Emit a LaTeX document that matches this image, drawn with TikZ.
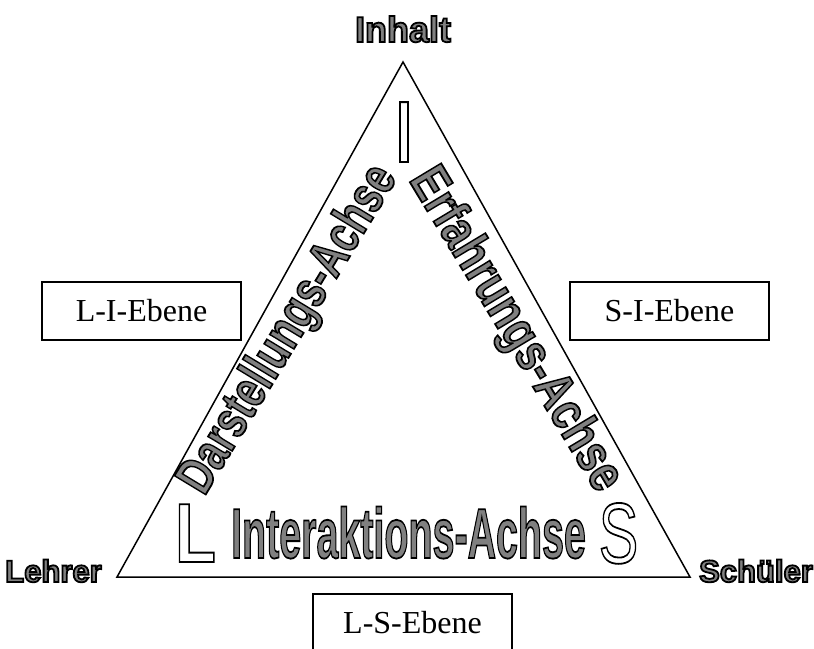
\documentclass[tikz,border=0pt]{standalone}
\usepackage{fontspec}
\usepackage{graphicx}
\setmainfont{Liberation Serif}
\newfontfamily\hs{Liberation Sans}
% outlined text via PDF text render mode (fill + stroke)
\newcommand{\grayol}[1]{\special{pdf:literal direct 2 Tr 1.8 w 0 G 0.5 g}#1\special{pdf:literal direct 0 Tr 0 g}}
\newcommand{\whiteol}[1]{\special{pdf:literal direct 2 Tr 1.8 w 0 G 1 g}#1\special{pdf:literal direct 0 Tr 0 g}}
\tikzset{
  edge/.style={line width=1.5pt, line join=miter},
  ebene/.style={draw, line width=1.5pt, minimum width=199pt, minimum height=58pt, inner sep=0pt, font=\fontsize{32}{32}\selectfont},
  corner/.style={inner sep=0pt, font=\hs\bfseries\fontsize{31}{31}\selectfont},
  axis/.style={inner sep=0pt, font=\hs\bfseries\fontsize{53}{53}\selectfont},
  bigletter/.style={inner sep=0pt, anchor=base}
}
\begin{document}
\begin{tikzpicture}[x=1pt,y=-1pt]
\useasboundingbox (0,0) rectangle (814,648);
\coordinate (A) at (403,62);
\coordinate (B) at (117,577);
\coordinate (C) at (690,577);
\draw[edge] (A) -- (B) -- (C) -- cycle;
% corner labels
\node[corner, anchor=base, font=\hs\bfseries\fontsize{36}{36}\selectfont] (inhalt) at (403,42) {\grayol{Inhalt}};
\node[corner, anchor=base] (lehrer) at (53.5,582) {\grayol{Lehrer}};
\node[corner, anchor=base] (schueler) at (756,582) {\grayol{Schüler}};
% Ebene boxes
\node[ebene] (li) at (141.5,311) {L-I-Ebene};
\node[ebene] (si) at (669.5,311) {S-I-Ebene};
\node[ebene] (ls) at (412.5,623) {L-S-Ebene};
% axis labels
\node[axis, anchor=mid, rotate=58.8] (darst) at (299,336) {\scalebox{0.75}[1]{\grayol{Darstellungs-Achse}}};
\node[axis, anchor=mid, rotate=-59] (erf) at (505,336) {\scalebox{0.8}[1]{\grayol{Erfahrungs-Achse}}};
\node[inner sep=0pt, anchor=base, font=\hs\bfseries\fontsize{71}{71}\selectfont] (inter) at (408.5,558) {\scalebox{0.555}[1]{\grayol{Interaktions-Achse}}};
% big outline letters
\node[bigletter, font=\hs\bfseries\fontsize{84}{84}\selectfont] (bigL) at (195.5,562) {\scalebox{0.8}[1]{\whiteol{L}}};
\node[bigletter, font=\hs\fontsize{86}{86}\selectfont] (bigS) at (618.5,563) {\scalebox{0.69}[1]{\whiteol{S}}};
\node[bigletter, font=\hs\fontsize{87}{87}\selectfont] (bigI) at (404,162) {\whiteol{I}};
\end{tikzpicture}
\end{document}
